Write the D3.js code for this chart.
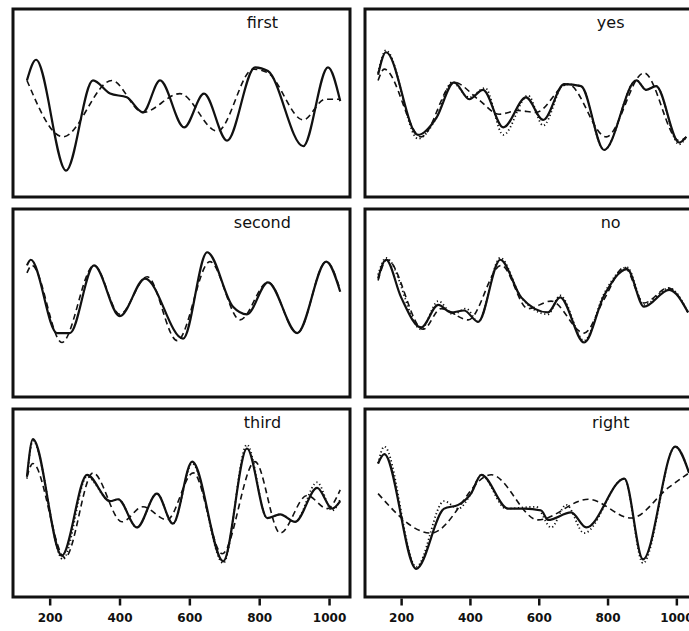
<!DOCTYPE html>
<html lang="en">
<head>
<meta charset="utf-8">
<title>panels</title>
<script src="https://d3js.org/d3.v7.min.js"></script>
<style>
  body { margin: 0; background: #fff; }
  .title { font-family: "DejaVu Sans", sans-serif; font-size: 16px; fill: #111; }
  .axis text { font-family: "DejaVu Sans", sans-serif; font-size: 12px; font-weight: bold; fill: #111; }
  .axis line { stroke: #111; stroke-width: 2.5px; }
  .box { fill: none; stroke: #111; stroke-width: 3px; }
</style>
</head>
<body>
<script>
// x values, y in percent of panel height (0 = bottom, 100 = top)
var xTicks = [200, 400, 600, 800, 1000];
var titles = ["first", "yes", "second", "no", "third", "right"];

var firstSolid = [[135,62],[161,73],[247,14],[324,62],[373,55],[421,53],[467,45],[516,62],[585,37],[642,55],[708,30],[788,69],[825,67],[926,27],[997,69],[1032,51]];
var firstDashed = [[135,62],[238,32],[378,62],[467,45],[573,55],[680,35],[783,68],[825,66],[926,41],[989,52],[1032,52]];

var yesSolid = [[133,65],[156,77],[249,33],[302,42],[354,61],[398,52],[438,57],[497,37],[563,53],[613,41],[674,60],[723,59],[790,25],[884,62],[912,57],[941,59],[1008,29],[1029,32]];
var yesDashed = [[133,62],[151,68],[258,32],[354,61],[424,52],[485,44],[540,46],[592,45],[685,60],[796,32],[906,66],[1008,30],[1029,32]];
var yesDotted = [[133,66],[156,78],[249,31],[302,42],[348,61],[398,53],[444,58],[497,33],[569,54],[613,38],[674,60],[723,59],[790,25],[884,62],[912,57],[941,59],[1008,28],[1029,32]];

var secondSolid = [[135,70],[146,73],[221,34],[258,34],[327,70],[401,43],[473,63],[582,31],[651,77],[725,48],[765,44],[825,61],[909,34],[992,72],[1032,56]];
var secondDashed = [[135,66],[149,70],[235,29],[327,70],[401,44],[479,64],[565,30],[659,72],[745,41],[825,61],[909,34],[992,72],[1032,57]];

var noSolid = [[133,63],[156,73],[200,53],[258,37],[308,49],[345,45],[383,46],[424,40],[488,73],[549,53],[627,45],[662,53],[732,29],[790,54],[857,68],[906,48],[979,57],[1034,45]];
var noDashed = [[133,62],[159,73],[264,36],[316,47],[395,41],[491,70],[569,47],[636,51],[732,34],[790,52],[849,69],[906,50],[976,58],[1034,45]];
var noDotted = [[133,65],[156,74],[258,36],[308,51],[351,44],[389,47],[424,40],[488,74],[549,53],[627,44],[662,54],[732,30],[790,55],[857,69],[906,49],[979,58],[1034,45]];

var thirdSolid = [[135,64],[152,84],[235,22],[307,65],[373,51],[396,52],[450,37],[507,55],[553,39],[608,72],[697,19],[765,79],[823,42],[860,44],[903,40],[966,58],[1009,47],[1032,51]];
var thirdDashed = [[135,64],[152,71],[244,21],[324,66],[407,40],[467,48],[536,41],[611,66],[694,23],[788,72],[860,34],[937,54],[995,47],[1032,57]];
var thirdDotted = [[135,63],[152,83],[238,20],[307,64],[373,51],[396,52],[450,37],[507,55],[553,39],[608,71],[697,18],[765,81],[823,42],[860,44],[903,40],[966,61],[1009,46],[1032,52]];

var rightSolid = [[133,71],[151,76],[244,15],[325,47],[366,49],[403,55],[433,65],[511,47],[558,47],[607,46],[627,41],[694,45],[738,37],[849,63],[903,20],[997,80],[1037,66]];
var rightDashed = [[133,55],[287,34],[462,65],[598,41],[744,52],[869,42],[976,58],[1037,66]];
var rightDotted = [[133,71],[151,80],[244,16],[325,51],[366,47],[403,55],[433,65],[505,47],[592,48],[636,37],[680,49],[732,34],[849,63],[903,18],[997,80],[1037,66]];

var panelSolid = [firstSolid, yesSolid, secondSolid, noSolid, thirdSolid, rightSolid];
var panelDashed = [firstDashed, yesDashed, secondDashed, noDashed, thirdDashed, rightDashed];
var panelDotted = [null, yesDotted, null, noDotted, thirdDotted, rightDotted];

var W = 689, H = 631;
var colX = [13, 365], colW = [337, 332];
var rowY = [9, 209, 409], rowH = 188;

var svg = d3.select("body").append("svg")
    .attr("width", W)
    .attr("height", H);

titles.forEach(function(t, i) {
  var col = i % 2, row = Math.floor(i / 2);
  var x0 = colX[col], y0 = rowY[row];

  var x = d3.scaleLinear().domain([95, 1060]).range([x0, x0 + colW[col]]);
  var y = d3.scaleLinear().domain([0, 100]).range([y0 + rowH, y0]);

  var line = d3.line()
      .x(function(d) { return x(d[0]); })
      .y(function(d) { return y(d[1]); })
      .curve(d3.curveMonotoneX);

  var g = svg.append("g");

  g.append("rect")
      .attr("class", "box")
      .attr("x", x0).attr("y", y0)
      .attr("width", colW[col]).attr("height", rowH);

  g.append("text")
      .attr("class", "title")
      .attr("x", x0 + colW[col] * 0.74)
      .attr("y", y0 + 19)
      .attr("text-anchor", "middle")
      .text(t);

  g.append("path")
      .datum(panelDashed[i])
      .attr("d", line)
      .attr("fill", "none")
      .attr("stroke", "#111")
      .attr("stroke-width", 1.6)
      .attr("stroke-dasharray", "6,4");

  if (panelDotted[i]) {
    g.append("path")
        .datum(panelDotted[i])
        .attr("d", line)
        .attr("fill", "none")
        .attr("stroke", "#111")
        .attr("stroke-width", 1.8)
        .attr("stroke-dasharray", "1.2,2.6");
  }

  g.append("path")
      .datum(panelSolid[i])
      .attr("d", line)
      .attr("fill", "none")
      .attr("stroke", "#111")
      .attr("stroke-width", 2.2);

  if (row === 2) {
    var axis = svg.append("g")
        .attr("class", "axis")
        .attr("transform", "translate(0," + (y0 + rowH + 1.5) + ")")
        .call(d3.axisBottom(x).tickValues(xTicks).tickFormat(d3.format("d")).tickSize(7).tickPadding(8));
    axis.select(".domain").remove();
  }
});
</script>
</body>
</html>
